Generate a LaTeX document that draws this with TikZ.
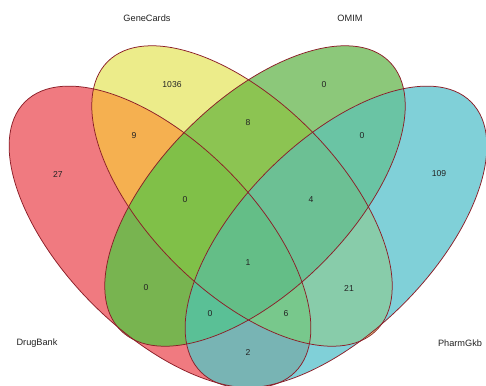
\documentclass[tikz,border=0pt]{standalone}
\usepackage{fontspec}
\setmainfont{Liberation Sans}
% single-set colours
\definecolor{kR}{RGB}{240,122,128}
\definecolor{kY}{RGB}{236,236,138}
\definecolor{kG}{RGB}{140,200,122}
\definecolor{kC}{RGB}{128,208,216}
% pairs
\definecolor{kRY}{RGB}{245,176,80}
\definecolor{kRG}{RGB}{120,180,80}
\definecolor{kRC}{RGB}{120,180,180}
\definecolor{kYG}{RGB}{140,196,82}
\definecolor{kYC}{RGB}{136,204,170}
\definecolor{kGC}{RGB}{106,196,164}
% triples
\definecolor{kRYG}{RGB}{128,192,72}
\definecolor{kRYC}{RGB}{120,200,140}
\definecolor{kRGC}{RGB}{90,192,150}
\definecolor{kYGC}{RGB}{108,192,148}
% all four
\definecolor{kAll}{RGB}{100,190,135}
\definecolor{cEdge}{RGB}{140,30,40}
\definecolor{cText}{RGB}{35,35,35}
\begin{document}
\begin{tikzpicture}[x=1pt,y=-1pt,
  ellR/.style={rotate around={-45:(160,237)},insert path={(160,237) ellipse [x radius=191, y radius=95]}},
  ellY/.style={rotate around={-45:(242,196)},insert path={(242,196) ellipse [x radius=190, y radius=95]}},
  ellG/.style={rotate around={45:(255,196)},insert path={(255,196) ellipse [x radius=190, y radius=95]}},
  ellC/.style={rotate around={45:(336,237)},insert path={(336,237) ellipse [x radius=191, y radius=95]}},
  setedge/.style={draw=cEdge,line width=0.75pt},
  setname/.style={font=\fontsize{9.2}{10}\selectfont,text=cText,inner sep=0pt},
  count/.style={font=\fontsize{8.6}{10}\selectfont,text=cText,inner sep=0pt}]
\useasboundingbox (0,0) rectangle (486,385);
\fill[white] (0,0) rectangle (486,385);
\clip (0,0) rectangle (486,385);
% single sets
\path[fill=kR,ellR];
\path[fill=kY,ellY];
\path[fill=kG,ellG];
\path[fill=kC,ellC];
% pairs
\begin{scope}\clip[ellR]; \path[fill=kRY,ellY]; \end{scope}
\begin{scope}\clip[ellR]; \path[fill=kRG,ellG]; \end{scope}
\begin{scope}\clip[ellR]; \path[fill=kRC,ellC]; \end{scope}
\begin{scope}\clip[ellY]; \path[fill=kYG,ellG]; \end{scope}
\begin{scope}\clip[ellY]; \path[fill=kYC,ellC]; \end{scope}
\begin{scope}\clip[ellG]; \path[fill=kGC,ellC]; \end{scope}
% triples
\begin{scope}\clip[ellR]; \clip[ellY]; \path[fill=kRYG,ellG]; \end{scope}
\begin{scope}\clip[ellR]; \clip[ellY]; \path[fill=kRYC,ellC]; \end{scope}
\begin{scope}\clip[ellR]; \clip[ellG]; \path[fill=kRGC,ellC]; \end{scope}
\begin{scope}\clip[ellY]; \clip[ellG]; \path[fill=kYGC,ellC]; \end{scope}
% all four
\begin{scope}\clip[ellR]; \clip[ellY]; \clip[ellG]; \path[fill=kAll,ellC]; \end{scope}
% outlines
\path[setedge,ellR];
\path[setedge,ellY];
\path[setedge,ellG];
\path[setedge,ellC];
% set names
\node[setname] (nGene) at (147,18) {GeneCards};
\node[setname] (nOmim) at (350,18) {OMIM};
\node[setname] (nDrug) at (37,343) {DrugBank};
\node[setname] (nPharm) at (460,343) {PharmGkb};
% counts
\node[count] (vY) at (172,85) {1036};
\node[count] (vG) at (324,85) {0};
\node[count] (vRY) at (134,136) {9};
\node[count] (vYG) at (248,123) {8};
\node[count] (vGC) at (362,136) {0};
\node[count] (vR) at (58,174) {27};
\node[count] (vC) at (439,174) {109};
\node[count] (vRYG) at (185,200) {0};
\node[count] (vYGC) at (311,200) {4};
\node[count] (vAll) at (248,263) {1};
\node[count] (vRG) at (146,288) {0};
\node[count] (vYC) at (349,288) {21};
\node[count] (vRGC) at (210,314) {0};
\node[count] (vRYC) at (286,314) {6};
\node[count] (vRC) at (248,352) {2};
\end{tikzpicture}
\end{document}
